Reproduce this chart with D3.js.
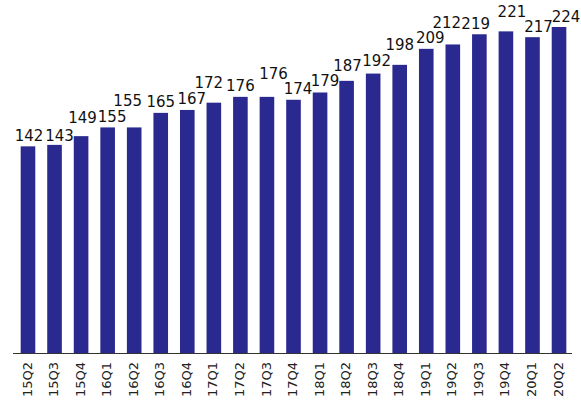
<!DOCTYPE html>
<html>
<head>
<meta charset="utf-8">
<script src="https://cdn.jsdelivr.net/npm/d3@7"></script>
<style>
  html, body { margin: 0; padding: 0; background: #fff; }
  svg { display: block; }
</style>
</head>
<body>
<svg id="chart" width="581" height="403"></svg>
<script>
// Quarterly values, 2015 Q2 – 2020 Q2
const quarters = ["15Q2","15Q3","15Q4","16Q1","16Q2","16Q3","16Q4","17Q1","17Q2","17Q3","17Q4",
                  "18Q1","18Q2","18Q3","18Q4","19Q1","19Q2","19Q3","19Q4","20Q1","20Q2"];
const values = [142,143,149,155,155,165,167,172,176,176,174,179,187,192,198,209,212,219,221,217,224];

// Value-label placement tweaks [dx, extra lift] so neighbouring labels do not collide
const labelNudge = [[1,0],[5,-1],[1.5,8],[4.5,0],[-6.5,16],[0,1],[4.5,1],[-5,10],[0,0.5],[6.5,13],
                    [4.5,1],[5,1.5],[1,5],[3.5,3],[0,10],[4,1],[-6,11],[-3.7,0],[6,9],[6,0],[7,0]];

const svg = d3.select("#chart");
const baseY = 353;

const x = d3.scaleBand()
  .domain(quarters)
  .range([14.7, 572.3])
  .paddingInner(0.45)
  .paddingOuter(0.225);

const y = d3.scaleLinear()
  .domain([0, 224])
  .range([baseY, 27]);

const data = quarters.map((q, i) => ({ q, v: values[i], n: labelNudge[i] }));

// Bars
svg.append("g")
  .selectAll("rect")
  .data(data)
  .join("rect")
  .attr("x", d => x(d.q))
  .attr("y", d => y(d.v))
  .attr("width", x.bandwidth())
  .attr("height", d => y(0) - y(d.v))
  .attr("fill", "#29298f");

// Value labels
svg.append("g")
  .selectAll("text")
  .data(data)
  .join("text")
  .attr("x", d => x(d.q) + x.bandwidth() / 2 + d.n[0])
  .attr("y", d => y(d.v) - 5 - d.n[1])
  .attr("text-anchor", "middle")
  .attr("font-family", "DejaVu Sans, Verdana, sans-serif")
  .attr("font-size", 15)
  .attr("fill", "#111")
  .text(d => d.v);

// Category axis
const axis = svg.append("g")
  .attr("transform", `translate(0,${baseY})`)
  .call(d3.axisBottom(x).tickSize(0).tickPadding(0));

axis.select(".domain")
  .attr("d", "M13,0.5H572")
  .attr("stroke", "#333")
  .attr("stroke-width", 1.2);

axis.selectAll(".tick text")
  .attr("transform", "rotate(-90)")
  .attr("text-anchor", "end")
  .attr("x", -9)
  .attr("y", -1)
  .attr("dy", "0.35em")
  .attr("font-family", "DejaVu Sans, Verdana, sans-serif")
  .attr("font-size", 13)
  .attr("fill", "#222");
</script>
</body>
</html>
